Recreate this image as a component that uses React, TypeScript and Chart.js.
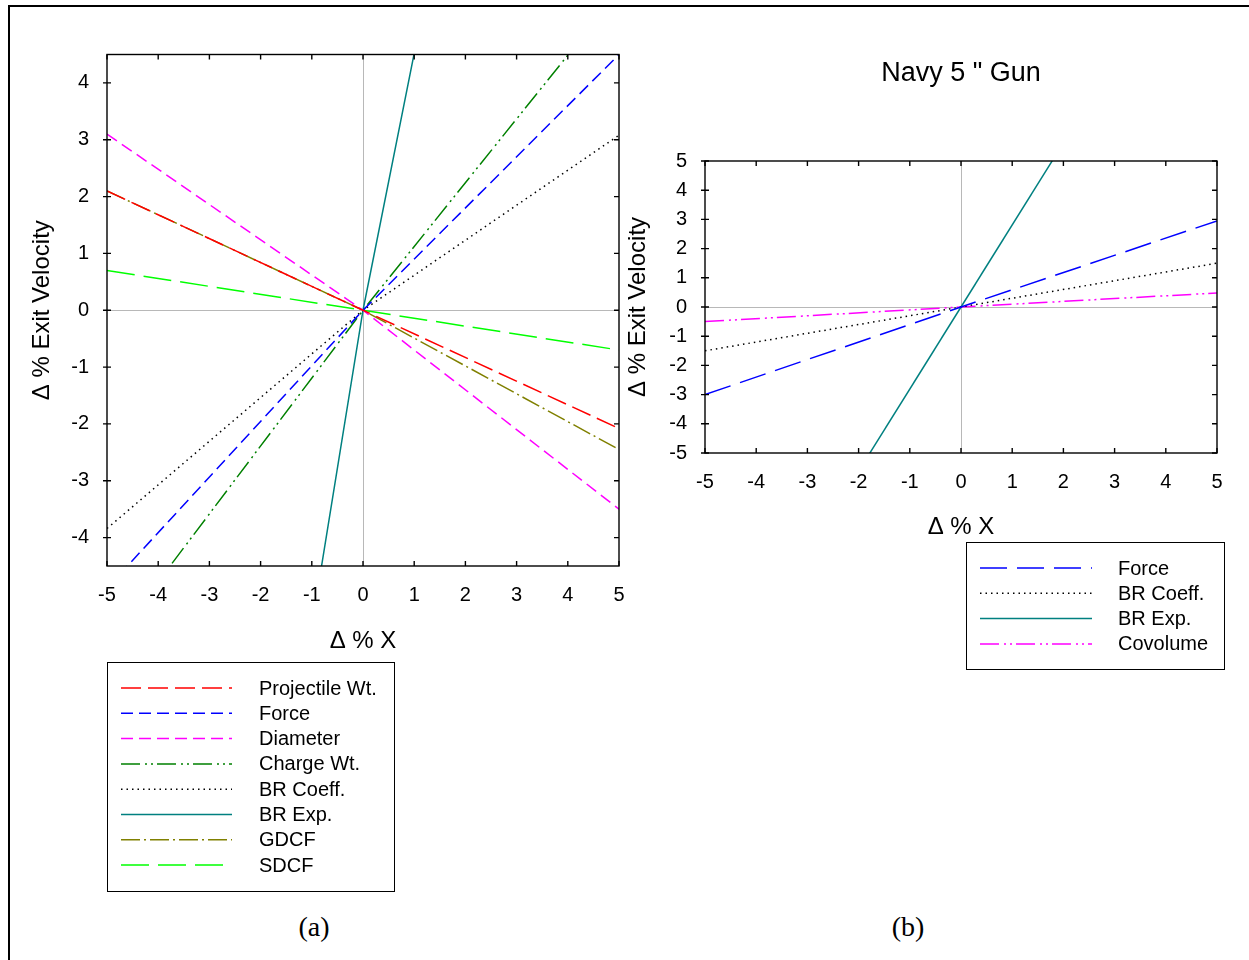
import React, { useEffect, useRef } from "react";
import { Chart, registerables } from "chart.js";

Chart.register(...registerables);

const FONT = "'Liberation Sans', Arial, Helvetica, sans-serif";

// ---------- tick labels ----------
const xTicks = [-5, -4, -3, -2, -1, 0, 1, 2, 3, 4, 5];
const leftYTicks = [-4, -3, -2, -1, 0, 1, 2, 3, 4];
const rightYTicks = [-5, -4, -3, -2, -1, 0, 1, 2, 3, 4, 5];

// ---------- chart (a) data ----------
const leftX = [-5, 0, 5];
const projectileWt = [2.1, 0, -2.08];
const forceA = [-4.89, 0, 4.5];
const diameter = [3.1, 0, -3.5];
const chargeWt = [-5.97, 0, 5.61];
const brCoeffA = [-3.84, 0, 3.08];
const brExpAX = [-1, 0, 1];
const brExpA = [-5.56, 0, 4.52];
const gdcf = [2.1, 0, -2.45];
const sdcf = [0.7, 0, -0.7];

// ---------- chart (b) data ----------
const rightX = [-5, 0, 5];
const forceB = [-3.0, 0, 2.95];
const brCoeffB = [-1.5, 0, 1.5];
const brExpBX = [-2, 0, 2];
const brExpB = [-5.62, 0, 5.62];
const covolume = [-0.5, 0, 0.48];

const pts = (xs: number[], ys: number[]) => xs.map((x, i) => ({ x, y: ys[i] }));

const line = (label: string, data: any[], color: string, dash: number[]) => ({
  label,
  data,
  borderColor: color,
  backgroundColor: color,
  borderDash: dash,
  borderWidth: 1.5,
  showLine: true,
  pointRadius: 0,
  pointHoverRadius: 0,
  tension: 0,
  fill: false,
});

const frameTicks = {
  id: "frameTicks",
  beforeDatasetsDraw(chart: any) {
    const { ctx, chartArea: a, scales } = chart;
    const x = scales.x, y = scales.y;
    ctx.save();
    ctx.strokeStyle = "#b8b8b8";
    ctx.lineWidth = 1;
    const x0 = Math.round(x.getPixelForValue(0)) + 0.5;
    const y0 = Math.round(y.getPixelForValue(0)) + 0.5;
    ctx.beginPath();
    ctx.moveTo(x0, a.top);
    ctx.lineTo(x0, a.bottom);
    ctx.moveTo(a.left, y0);
    ctx.lineTo(a.right, y0);
    ctx.stroke();
    ctx.restore();
  },
  afterDatasetsDraw(chart: any) {
    const { ctx, chartArea: a, scales } = chart;
    const x = scales.x, y = scales.y;
    ctx.save();
    ctx.strokeStyle = "#000";
    ctx.lineWidth = 1.4;
    ctx.setLineDash([]);
    ctx.strokeRect(a.left, a.top, a.right - a.left, a.bottom - a.top);
    ctx.beginPath();
    for (const t of x.ticks) {
      const px = x.getPixelForValue(t.value);
      ctx.moveTo(px, a.top);
      ctx.lineTo(px, a.top + 5);
      ctx.moveTo(px, a.bottom);
      ctx.lineTo(px, a.bottom - 5);
    }
    for (const t of y.ticks) {
      const py = y.getPixelForValue(t.value);
      ctx.moveTo(a.left - 4, py);
      ctx.lineTo(a.left + 4, py);
      ctx.moveTo(a.right, py);
      ctx.lineTo(a.right - 5, py);
    }
    ctx.stroke();
    ctx.restore();
  },
};

const boxLegend = {
  id: "boxLegend",
  afterDraw(chart: any, _args: any, opts: any) {
    if (!opts || !opts.box) return;
    const { ctx } = chart;
    const b = opts.box;
    ctx.save();
    ctx.strokeStyle = "#000";
    ctx.lineWidth = 1;
    ctx.setLineDash([]);
    ctx.strokeRect(b.x + 0.5, b.y + 0.5, b.w, b.h);
    chart.data.datasets.forEach((ds: any, i: number) => {
      const yy = opts.rowStart + i * opts.rowGap;
      ctx.beginPath();
      ctx.strokeStyle = ds.borderColor;
      ctx.lineWidth = ds.borderWidth;
      ctx.setLineDash(ds.borderDash || []);
      ctx.moveTo(opts.lineX1, yy);
      ctx.lineTo(opts.lineX2, yy);
      ctx.stroke();
      ctx.setLineDash([]);
      ctx.fillStyle = "#000";
      ctx.font = `${opts.fontSize}px ${FONT}`;
      ctx.textBaseline = "middle";
      ctx.textAlign = "left";
      ctx.fillText(ds.label, opts.textX, yy + 1);
    });
    ctx.restore();
  },
};

const tickFont = { family: FONT, size: 20 };
const titleFont = { family: FONT, size: 24 };

function makeScales(yTicks: number[], yMin: number, yMax: number, yWidth: number, yTitlePad: number, xPad: number, xTitlePad: number) {
  return {
    x: {
      type: "linear",
      position: "bottom",
      min: -5,
      max: 5,
      grid: { display: false, drawTicks: false, tickLength: 0 },
      border: { display: false },
      ticks: { font: tickFont, color: "#000", padding: xPad, autoSkip: false, maxRotation: 0, callback: (v: any) => String(v) },
      afterBuildTicks: (s: any) => { s.ticks = xTicks.map((v) => ({ value: v })); },
      afterFit: (s: any) => { s.height = 90; },
      title: { display: true, text: "Δ % X", font: titleFont, color: "#000", padding: { top: 0, bottom: xTitlePad } },
    },
    y: {
      type: "linear",
      position: "left",
      min: yMin,
      max: yMax,
      grid: { display: false, drawTicks: false, tickLength: 0 },
      border: { display: false },
      ticks: { font: tickFont, color: "#000", padding: 18, autoSkip: false, callback: (v: any) => String(v) },
      afterBuildTicks: (s: any) => { s.ticks = yTicks.map((v) => ({ value: v })); },
      afterFit: (s: any) => { s.width = yWidth; },
      title: { display: true, text: "Δ % Exit Velocity", font: { family: FONT, size: 24 }, color: "#000", padding: { top: yTitlePad, bottom: 0 } },
    },
  };
}

function LeftChart() {
  const ref = useRef<HTMLCanvasElement>(null);
  useEffect(() => {
    const chart = new Chart(ref.current as HTMLCanvasElement, {
      type: "scatter",
      data: {
        datasets: [
          line("Projectile Wt.", pts(leftX, projectileWt), "#ff0000", [20, 7]),
          line("Force", pts(leftX, forceA), "#0000ff", [12, 6]),
          line("Diameter", pts(leftX, diameter), "#ff00ff", [12, 6]),
          line("Charge Wt.", pts(leftX, chargeWt), "#008000", [19, 5, 2, 4, 2, 4]),
          line("BR Coeff.", pts(leftX, brCoeffA), "#000000", [1.5, 4]),
          line("BR Exp.", pts(brExpAX, brExpA), "#008080", []),
          line("GDCF", pts(leftX, gdcf), "#808000", [19, 4, 2, 4]),
          line("SDCF", pts(leftX, sdcf), "#00ff00", [28, 9]),
        ],
      } as any,
      options: {
        responsive: false,
        animation: false,
        devicePixelRatio: 1,
        events: [],
        layout: { padding: { left: 27, top: 54.5, right: 25, bottom: 244 } },
        plugins: {
          legend: { display: false },
          tooltip: { enabled: false },
          title: { display: false },
          boxLegend: {
            box: { x: 107, y: 662, w: 287, h: 229 },
            rowStart: 688,
            rowGap: 25.3,
            lineX1: 121,
            lineX2: 232,
            textX: 259,
            fontSize: 20,
          },
        } as any,
        scales: makeScales(leftYTicks, -4.5, 4.5, 80, 0.6, 17, 0) as any,
      },
      plugins: [frameTicks, boxLegend],
    });
    return () => chart.destroy();
  }, []);
  return (
    <canvas
      ref={ref}
      width={644}
      height={900}
      style={{ position: "absolute", left: 0, top: 0, width: 644, height: 900 }}
    />
  );
}

function RightChart() {
  const ref = useRef<HTMLCanvasElement>(null);
  useEffect(() => {
    const chart = new Chart(ref.current as HTMLCanvasElement, {
      type: "scatter",
      data: {
        datasets: [
          line("Force", pts(rightX, forceB), "#0000ff", [27, 10]),
          line("BR Coeff.", pts(rightX, brCoeffB), "#000000", [1.5, 4]),
          line("BR Exp.", pts(brExpBX, brExpB), "#008080", []),
          line("Covolume", pts(rightX, covolume), "#ff00ff", [19, 5, 2, 4, 2, 4]),
        ],
      } as any,
      options: {
        responsive: false,
        animation: false,
        devicePixelRatio: 1,
        events: [],
        layout: { padding: { left: 0, top: 0, right: 32, bottom: 157 } },
        plugins: {
          legend: { display: false },
          tooltip: { enabled: false },
          title: {
            display: true,
            text: 'Navy 5 " Gun',
            fullSize: false,
            color: "#000",
            font: { family: FONT, size: 27, weight: "normal" },
            padding: { top: 57.8, bottom: 70.8 },
          },
          boxLegend: {
            box: { x: 344, y: 542, w: 258, h: 127 },
            rowStart: 568,
            rowGap: 25.3,
            lineX1: 358,
            lineX2: 470,
            textX: 496,
            fontSize: 20,
          },
        } as any,
        scales: makeScales(rightYTicks, -5, 5, 83, 1.6, 17.7, 1.6) as any,
      },
      plugins: [frameTicks, boxLegend],
    });
    return () => chart.destroy();
  }, []);
  return (
    <canvas
      ref={ref}
      width={627}
      height={700}
      style={{ position: "absolute", left: 622, top: 0, width: 627, height: 700 }}
    />
  );
}

const captionStyle: React.CSSProperties = {
  position: "absolute",
  top: 911,
  width: 100,
  textAlign: "center",
  fontFamily: "'Liberation Serif', 'Times New Roman', serif",
  fontSize: 28,
  lineHeight: "32px",
  color: "#000",
};

export default function App() {
  return (
    <div
      style={{
        position: "absolute",
        left: 0,
        top: 0,
        width: 1249,
        height: 960,
        overflow: "hidden",
        background: "#fff",
      }}
    >
      <div
        style={{
          position: "absolute",
          left: 8,
          top: 5,
          width: 1300,
          height: 1000,
          border: "2px solid #000",
        }}
      />
      <LeftChart />
      <RightChart />
      <div style={{ ...captionStyle, left: 264 }}>(a)</div>
      <div style={{ ...captionStyle, left: 858 }}>(b)</div>
    </div>
  );
}
